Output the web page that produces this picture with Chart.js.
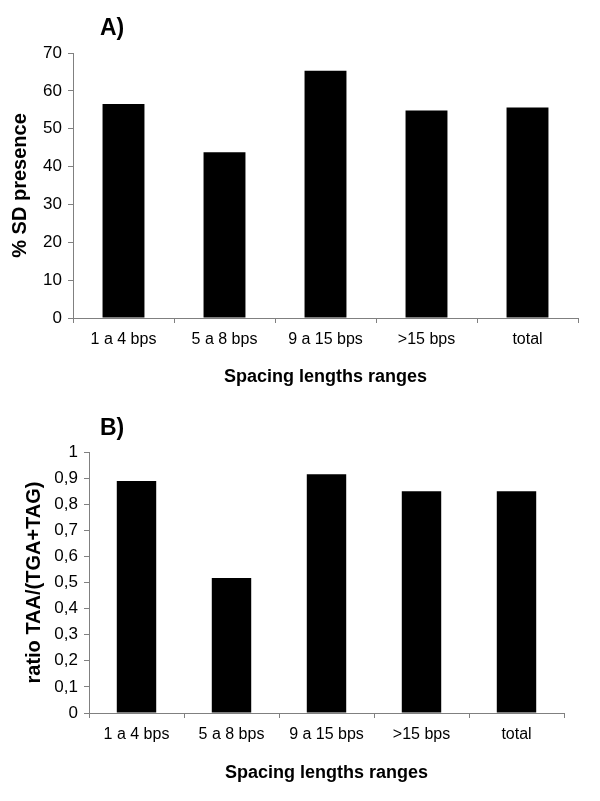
<!DOCTYPE html>
<html>
<head>
<meta charset="utf-8">
<script src="https://cdn.jsdelivr.net/npm/chart.js@4/dist/chart.umd.min.js"></script>
<style>
    body { margin: 0; background: #fff; }
    #wrap { position: relative; width: 600px; height: 801px; }
    .panel { position: absolute; left: 0; width: 600px; }
    .tag { position: absolute; font: bold 23px "Liberation Sans", Arial, sans-serif; color: #000; }
</style>
</head>
<body>
<div id="wrap">
    <div class="panel" style="top:0;height:400px"><canvas id="chartA" width="600" height="400"></canvas></div>
    <div class="panel" style="top:400px;height:401px"><canvas id="chartB" width="600" height="401"></canvas></div>
    <div class="tag" style="left:100px;top:14px">A)</div>
    <div class="tag" style="left:100px;top:414px">B)</div>
</div>
<script>
const categories = ["1 a 4 bps", "5 a 8 bps", "9 a 15 bps", ">15 bps", "total"];
const sdPresence = [56.5, 43.8, 65.3, 54.8, 55.6];
const ratioTAA = [0.889, 0.517, 0.915, 0.85, 0.85];
const ticksB = ["0", "0,1", "0,2", "0,3", "0,4", "0,5", "0,6", "0,7", "0,8", "0,9", "1"];

const FONT = '"Liberation Sans", Arial, sans-serif';
const AXIS_GREY = '#808080';

function drawBarChart(el, values, opts) {
    return new Chart(el, {
        type: 'bar',
        data: {
            labels: categories,
            datasets: [{
                data: values,
                backgroundColor: '#000',
                borderWidth: 0,
                barPercentage: 0.415,
                categoryPercentage: 1
            }]
        },
        options: {
            responsive: false,
            animation: false,
            layout: { padding: { top: opts.padTop, right: opts.padRight, left: 0, bottom: 0 } },
            plugins: { legend: { display: false }, tooltip: { enabled: false } },
            scales: {
                x: {
                    offset: true,
                    afterFit: (scale) => { scale.height = opts.xHeight; },
                    grid: { offset: true, drawOnChartArea: false, tickLength: 5, color: AXIS_GREY },
                    border: { color: AXIS_GREY },
                    ticks: { color: '#000', padding: 7, maxRotation: 0, font: { family: FONT, size: 16 } },
                    title: {
                        display: true,
                        text: 'Spacing lengths ranges',
                        color: '#000',
                        padding: { top: 0, bottom: opts.xTitlePad },
                        font: { family: FONT, size: 18, weight: 'bold' }
                    }
                },
                y: {
                    min: 0,
                    max: opts.max,
                    afterFit: (scale) => { scale.width = opts.yWidth; },
                    grid: { drawOnChartArea: false, tickLength: 5, color: AXIS_GREY },
                    border: { color: AXIS_GREY },
                    ticks: {
                        stepSize: opts.step,
                        color: '#000',
                        padding: 6,
                        font: { family: FONT, size: 17 },
                        callback: opts.tickFmt
                    },
                    title: {
                        display: true,
                        text: opts.yTitle,
                        color: '#000',
                        padding: { top: opts.yTitlePad, bottom: 0 },
                        font: { family: FONT, size: 20, weight: 'bold' }
                    }
                }
            }
        }
    });
}

drawBarChart(document.getElementById('chartA'), sdPresence, {
    max: 70, step: 10,
    padTop: 53, padRight: 22,
    xHeight: 82, yWidth: 73,
    xTitlePad: 12, yTitlePad: 8,
    yTitle: '% SD presence',
    tickFmt: (v) => v
});

drawBarChart(document.getElementById('chartB'), ratioTAA, {
    max: 1, step: 0.1,
    padTop: 52, padRight: 36,
    xHeight: 88, yWidth: 89,
    xTitlePad: 17, yTitlePad: 22,
    yTitle: 'ratio TAA/(TGA+TAG)',
    tickFmt: (v, i) => ticksB[i]
});
</script>
</body>
</html>
